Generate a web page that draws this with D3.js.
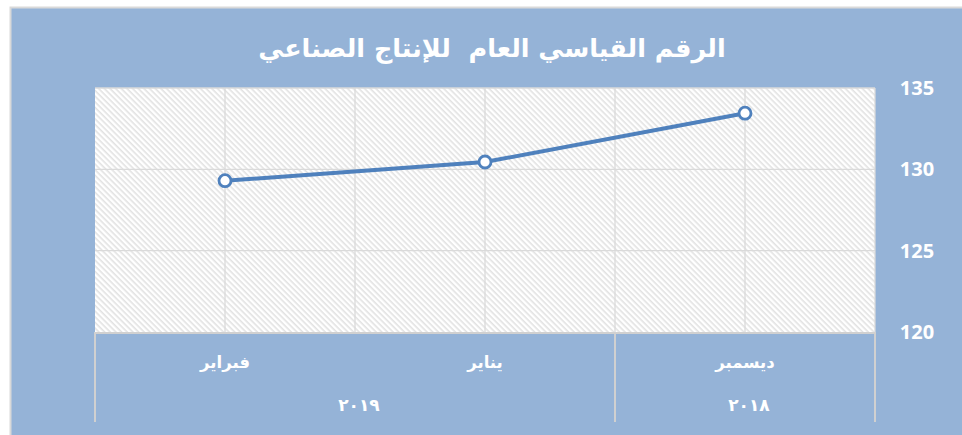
<!DOCTYPE html>
<html>
<head>
<meta charset="utf-8">
<script src="https://cdn.jsdelivr.net/npm/d3@7"></script>
<style>
  html, body { margin: 0; padding: 0; background: #ffffff; }
  svg { display: block; }
</style>
</head>
<body>
<div id="chart"></div>
<script>
// chart values (left to right as drawn, the sheet is right-to-left)
const months = ['فبراير', 'يناير', 'ديسمبر']
const values = [129.3, 130.45, 133.45]
const yearGroups = [
  { label: '٢٠١٩', months: ['فبراير', 'يناير'] },
  { label: '٢٠١٨', months: ['ديسمبر'] }
]
const yTicks = [120, 125, 130, 135]
const title = 'الرقم القياسي العام  للإنتاج الصناعي'

const width = 962
const height = 435
const plot = { left: 95, right: 875, top: 88, bottom: 332 }

const svg = d3.select('#chart')
  .append('svg')
  .attr('width', width)
  .attr('height', height)

// hatch fill for the plot area
const defs = svg.append('defs')
defs.append('pattern')
  .attr('id', 'hatch')
  .attr('width', 4)
  .attr('height', 4)
  .attr('patternUnits', 'userSpaceOnUse')
  .attr('patternTransform', 'rotate(45)')
  .call(p => {
    p.append('rect').attr('width', 4).attr('height', 4).attr('fill', '#ffffff')
    p.append('rect').attr('width', 4).attr('height', 1.6).attr('fill', '#e2e2e2')
  })

// chart area
svg.append('rect')
  .attr('x', 10.5).attr('y', 7.5)
  .attr('width', width + 20).attr('height', height + 20)
  .attr('fill', '#95b3d7')
  .attr('stroke', '#d9d9d9')
  .attr('stroke-width', 2)

const x = d3.scalePoint()
  .domain(months)
  .range([plot.left, plot.right])
  .padding(0.5)

const step = x.step()

const y = d3.scaleLinear()
  .domain([120, 135])
  .range([plot.bottom, plot.top])

svg.append('rect')
  .attr('x', plot.left).attr('y', plot.top)
  .attr('width', plot.right - plot.left)
  .attr('height', plot.bottom - plot.top)
  .attr('fill', 'url(#hatch)')

// gridlines
const grid = svg.append('g').attr('stroke', '#dadada').attr('stroke-width', 1.3)
grid.selectAll('line.h')
  .data(yTicks.filter(d => d > 120))
  .join('line')
  .attr('class', 'h')
  .attr('x1', plot.left).attr('x2', plot.right)
  .attr('y1', d => y(d)).attr('y2', d => y(d))
grid.selectAll('line.v')
  .data(months)
  .join('line')
  .attr('class', 'v')
  .attr('x1', d => x(d)).attr('x2', d => x(d))
  .attr('y1', plot.top).attr('y2', plot.bottom)
grid.selectAll('line.b')
  .data(months.slice(1))
  .join('line')
  .attr('class', 'b')
  .attr('x1', d => x(d) - step / 2).attr('x2', d => x(d) - step / 2)
  .attr('y1', plot.top).attr('y2', plot.bottom)
grid.append('line')
  .attr('x1', plot.right).attr('x2', plot.right)
  .attr('y1', plot.top).attr('y2', plot.bottom)

// category axis (two levels)
const axis = svg.append('g').attr('stroke', '#d0d0d0').attr('stroke-width', 2)
axis.append('line')
  .attr('x1', plot.left).attr('x2', plot.right)
  .attr('y1', plot.bottom + 1).attr('y2', plot.bottom + 1)
const edges = [plot.left].concat(yearGroups.map(g => x(g.months[g.months.length - 1]) + step / 2))
axis.selectAll('line.g')
  .data(edges)
  .join('line')
  .attr('class', 'g')
  .attr('x1', d => d).attr('x2', d => d)
  .attr('y1', plot.bottom).attr('y2', 422)

svg.append('g')
  .selectAll('text')
  .data(months)
  .join('text')
  .attr('x', d => x(d))
  .attr('y', 363)
  .attr('text-anchor', 'middle')
  .attr('dominant-baseline', 'middle')
  .attr('fill', '#ffffff')
  .style('font', 'bold 16.5px "DejaVu Sans", sans-serif')
  .text(d => d)

svg.append('g')
  .selectAll('text')
  .data(yearGroups)
  .join('text')
  .attr('x', g => d3.mean(g.months, m => x(m)) + 4)
  .attr('y', 406)
  .attr('text-anchor', 'middle')
  .attr('dominant-baseline', 'middle')
  .attr('fill', '#ffffff')
  .style('font', 'bold 17px "DejaVu Sans", sans-serif')
  .style('letter-spacing', '8px')
  .text(g => g.label)

// value axis on the right
const yAxis = d3.axisRight(y).tickValues(yTicks).tickSize(0).tickPadding(0)
svg.append('g')
  .attr('transform', `translate(917,0)`)
  .call(yAxis)
  .call(g => g.select('.domain').remove())
  .call(g => g.selectAll('text')
    .attr('text-anchor', 'middle')
    .attr('fill', '#ffffff')
    .style('font', 'bold 20px "Open Sans", sans-serif'))

// series
const points = months.map((m, i) => ({ m, v: values[i] }))
svg.append('path')
  .datum(points)
  .attr('fill', 'none')
  .attr('stroke', '#4f81bd')
  .attr('stroke-width', 4)
  .attr('stroke-linecap', 'round')
  .attr('d', d3.line().x(d => x(d.m)).y(d => y(d.v)))

svg.append('g')
  .selectAll('circle')
  .data(points)
  .join('circle')
  .attr('cx', d => x(d.m))
  .attr('cy', d => y(d.v))
  .attr('r', 6)
  .attr('fill', '#ffffff')
  .attr('stroke', '#4f81bd')
  .attr('stroke-width', 2.8)

// title
svg.append('text')
  .attr('x', 492)
  .attr('y', 50)
  .attr('text-anchor', 'middle')
  .attr('dominant-baseline', 'middle')
  .attr('fill', '#ffffff')
  .style('font', 'bold 25.5px "DejaVu Sans", sans-serif')
  .style('white-space', 'pre')
  .text(title)
</script>
</body>
</html>
